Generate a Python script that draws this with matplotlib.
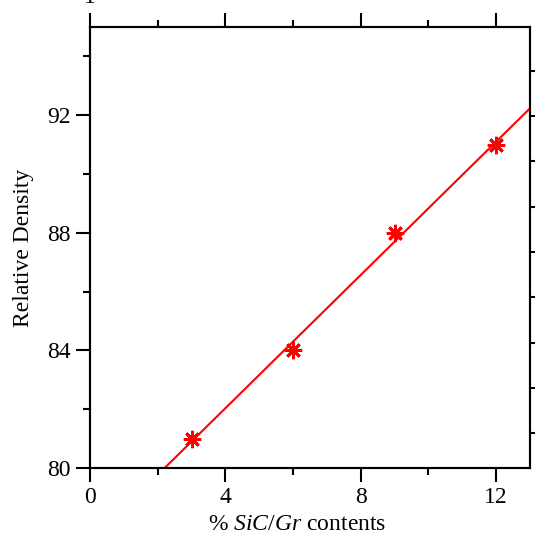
import numpy as np
import matplotlib
matplotlib.use("Agg")
import matplotlib.pyplot as plt

# ── Data ──────────────────────────────────────────────────────────────────────
sic_gr_pct = [3, 6, 9, 12]              # % SiC/Gr reinforcement
rel_density = [81, 84, 88, 91]          # relative density

x_major = [0, 4, 8, 12]
x_minor = [2, 6, 10]
y_major = [80, 84, 88, 92]
y_minor = [82, 86, 90, 94]
right_ticks = list(range(9))            # unlabelled ticks on the right frame

RED = "#FF0000"

plt.rcParams["font.family"] = ["Liberation Serif", "DejaVu Serif"]
plt.rcParams["mathtext.fontset"] = "custom"
plt.rcParams["mathtext.rm"] = "Liberation Serif"
plt.rcParams["mathtext.it"] = "Liberation Serif:italic"

fig = plt.figure(figsize=(5.35, 5.37), dpi=100)
ax = fig.add_axes([90 / 535, 69 / 537, 440 / 535, 441 / 537])

# least-squares trend line through the measurements
slope, intercept = np.polyfit(sic_gr_pct, rel_density, 1)
xs = np.array([0.0, 13.0])
ax.plot(xs, slope * xs + intercept, color=RED, lw=1.5, zorder=2)
ax.plot(sic_gr_pct, rel_density, linestyle="none", marker=(8, 2, 0),
        markersize=12.5, markeredgewidth=2.0, color=RED, zorder=3)

ax.set_xlim(0, 13)
ax.set_ylim(80, 95)
ax.set_xticks(x_major)
ax.set_xticks(x_minor, minor=True)
ax.set_yticks(y_major)
ax.set_yticks(y_minor, minor=True)
ax.set_xticklabels([str(v) for v in x_major])
ax.set_yticklabels([str(v) for v in y_major])

ax.tick_params(axis="both", which="major", direction="out", length=10,
               width=1.5, labelsize=17, pad=4, colors="black")
ax.tick_params(axis="both", which="minor", direction="out", length=5,
               width=1.5)
ax.tick_params(axis="x", which="both", top=True)
ax.tick_params(axis="y", which="both", right=False)
for sp in ax.spines.values():
    sp.set_linewidth(1.5)

# right frame carries its own evenly spaced ticks
ax2 = ax.twinx()
ax2.set_ylim(-0.77, 8.97)
ax2.set_yticks(right_ticks)
ax2.set_yticklabels([])
ax2.tick_params(axis="y", direction="out", length=6, width=1.5)
for sp in ax2.spines.values():
    sp.set_linewidth(1.5)

ax.set_xlabel(r"% $\mathit{SiC}$/$\mathit{Gr}$ contents", fontsize=17)
ax.xaxis.set_label_coords(0.47, -0.105)
ax.set_ylabel("Relative Density", fontsize=17)
ax.yaxis.set_label_coords(-0.128, 0.5)

# clipped label from the panel above
fig.text(90 / 535, 1 - 3 / 537, "1", fontsize=17, ha="center", va="baseline")

fig.savefig("out.png", dpi=100)
